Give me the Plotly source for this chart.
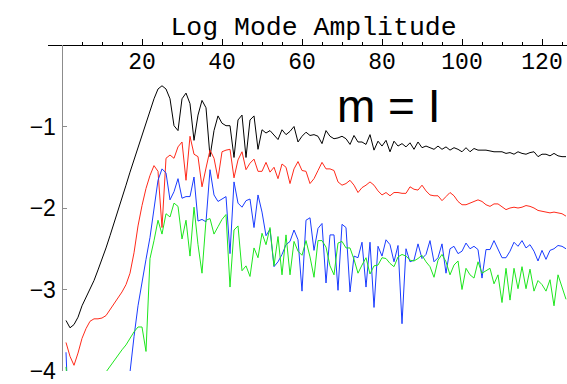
import plotly.graph_objects as go

# ---------------- data ----------------
x = list(range(1, 127))

black = [
    -3.38, -3.47, -3.43, -3.34, -3.20, -3.10, -3.00, -2.89, -2.76, -2.63,
    -2.49, -2.34, -2.19, -2.04, -1.88, -1.72, -1.56, -1.41, -1.26, -1.11,
    -0.96, -0.81, -0.66, -0.54, -0.50, -0.54, -0.66, -0.99, -1.05, -0.66,
    -0.59, -0.72, -1.17, -0.86, -0.68, -0.77, -1.37, -1.05, -0.87, -0.96,
    -0.99, -0.99, -1.38, -0.92, -0.86, -1.38, -0.92, -0.87, -1.28, -1.04,
    -1.08, -1.05, -1.10, -1.16, -1.04, -1.10, -1.06, -1.00, -1.19, -1.12,
    -1.07, -1.11, -1.10, -1.12, -1.21, -1.05, -1.12, -1.15, -1.14, -1.12,
    -1.15, -1.22, -1.11, -1.19, -1.19, -1.22, -1.10, -1.29, -1.18, -1.24,
    -1.17, -1.31, -1.18, -1.24, -1.21, -1.25, -1.20, -1.28, -1.19, -1.26,
    -1.24, -1.26, -1.28, -1.24, -1.28, -1.25, -1.29, -1.26, -1.28, -1.31,
    -1.26, -1.31, -1.27, -1.29, -1.29, -1.29, -1.30, -1.31, -1.31, -1.31,
    -1.33, -1.32, -1.34, -1.31, -1.33, -1.34, -1.32, -1.31, -1.37, -1.34,
    -1.34, -1.36, -1.33, -1.36, -1.37, -1.37,
]

red = [
    -3.65, -3.82, -3.93, -3.78, -3.60, -3.48, -3.39, -3.36, -3.36, -3.35,
    -3.32, -3.25, -3.18, -3.10, -3.03, -2.94, -2.80, -2.55, -2.22, -1.97,
    -1.76, -1.60, -1.48, -1.55, -2.24, -1.39, -1.35, -1.39, -1.25, -1.19,
    -1.66, -1.12, -1.34, -1.37, -1.74, -1.51, -1.29, -1.39, -1.64, -1.31,
    -1.29, -1.28, -1.63, -1.41, -1.31, -1.53, -1.45, -1.40, -1.55, -1.55,
    -1.44, -1.56, -1.50, -1.64, -1.46, -1.50, -1.70, -1.52, -1.43, -1.54,
    -1.55, -1.70, -1.64, -1.54, -1.44, -1.52, -1.52, -1.54, -1.68, -1.72,
    -1.70, -1.66, -1.72, -1.81, -1.75, -1.72, -1.68, -1.72, -1.79, -1.84,
    -1.81, -1.85, -1.81, -1.81, -1.82, -1.82, -1.74, -1.77, -1.78, -1.72,
    -1.79, -1.84, -1.85, -1.85, -1.91, -1.86, -1.81, -1.85, -1.92, -1.96,
    -1.96, -1.94, -1.92, -1.90, -1.92, -1.96, -1.98, -1.95, -1.95, -1.99,
    -2.02, -2.00, -1.99, -2.00, -1.99, -1.97, -1.98, -2.00, -2.03, -2.04,
    -2.05, -2.06, -2.05, -2.06, -2.07, -2.10,
]

blue = [
    -3.77, -5.00, None, None, None, None, None, None, None, None,
    None, None, None, None, None, -4.45, -3.97, -3.58, -3.20, -2.90,
    -2.63, -2.36, -2.04, -1.66, -1.52, -1.57, -1.90, -1.80, -1.64, -1.88,
    -1.86, -1.86, -1.62, -2.16, -2.14, -2.17, -1.53, -1.84, -1.92, -1.89,
    -1.86, -2.56, -1.68, -1.94, -1.99, -1.91, -1.89, -2.24, -1.84, -2.05,
    -2.34, -2.26, -2.72, -2.66, -2.57, -2.45, -2.41, -2.27, -2.39, -3.02,
    -2.15, -2.12, -2.52, -2.25, -2.19, -2.92, -2.33, -2.33, -3.01, -2.20,
    -2.24, -3.03, -2.59, -2.61, -2.42, -2.97, -2.42, -3.22, -2.47, -2.59,
    -2.39, -2.45, -2.66, -2.46, -3.42, -2.50, -2.66, -2.64, -2.44, -2.62,
    -2.57, -2.40, -2.66, -2.61, -2.44, -2.80, -2.50, -2.47, -2.56, -2.53,
    -2.43, -2.50, -2.47, -2.51, -2.86, -2.51, -2.51, -2.40, -2.51, -2.61,
    -2.61, -2.53, -2.42, -2.47, -2.40, -2.49, -2.45, -2.53, -2.65, -2.52,
    -2.63, -2.52, -2.50, -2.46, -2.47, -2.50,
]

green = [
    -3.95, -4.50, None, None, None, None, None, None, None, -4.08,
    -4.01, -3.94, -3.87, -3.80, -3.74, -3.68, -3.60, -3.52, -3.46, -3.46,
    -3.76, -2.62, -2.40, -2.15, -2.32, -2.07, -2.11, -1.94, -1.98, -2.38,
    -2.15, -2.59, -1.99, -2.45, -2.80, -2.15, -2.13, -2.32, -2.23, -2.14,
    -2.08, -2.97, -2.27, -2.22, -2.77, -2.71, -2.84, -2.49, -2.61, -2.31,
    -2.45, -2.24, -2.71, -2.35, -2.82, -2.33, -2.82, -2.41, -2.53, -2.58,
    -2.40, -2.60, -2.85, -2.40, -2.40, -2.48, -2.71, -2.82, -2.43, -2.41,
    -2.49, -2.49, -2.63, -2.80, -2.70, -2.61, -2.81, -2.71, -2.70, -2.61,
    -2.62, -2.68, -2.72, -2.60, -2.57, -2.59, -2.64, -2.65, -2.62, -2.58,
    -2.66, -2.72, -2.85, -2.64, -2.57, -2.66, -2.82, -2.70, -2.65, -3.00,
    -2.74, -2.82, -2.86, -2.66, -2.80, -2.77, -2.74, -2.93, -2.82, -3.16,
    -2.74, -3.13, -2.74, -2.99, -2.72, -2.99, -2.75, -3.02, -2.89, -2.94,
    -3.02, -2.88, -3.20, -2.82, -2.97, -3.12,
]

x_tick_vals = [20, 40, 60, 80, 100, 120]
x_tick_text = ["20", "40", "60", "80", "100", "120"]
x_minor_vals = [v for v in range(5, 126, 5) if v % 20 != 0]
y_tick_vals = [-1, -2, -3, -4]
y_tick_text = ["\u22121", "\u22122", "\u22123", "\u22124"]

title_text = "Log Mode Amplitude"
label_text = "m = I"

# ---------------- figure ----------------
W, H = 567, 384
ML, MR, MT, MB = 48, 0, 45, 9

fig = go.Figure()
for ys, col in [(black, "#000000"), (red, "#ff2a1a"), (blue, "#1a3cff"), (green, "#1ee61e")]:
    fig.add_trace(go.Scatter(x=x, y=ys, mode="lines",
                             line=dict(color=col, width=1),
                             connectgaps=False, showlegend=False,
                             hoverinfo="skip"))

mono = "Liberation Mono, Courier New, Courier, monospace"
sans = "Liberation Sans, Arial, Helvetica, sans-serif"

fig.update_layout(
    width=W, height=H,
    margin=dict(l=ML, r=MR, t=MT, b=MB, pad=0),
    paper_bgcolor="white", plot_bgcolor="white",
    title=dict(text=title_text, x=313.5 / W, xanchor="center",
               y=1 - 25.5 / H, yanchor="middle", yref="container",
               font=dict(family=mono, size=26.5, color="black")),
    xaxis=dict(range=[-3.5, 126.25], side="bottom", anchor="free", position=1,
               showline=True, linecolor="black", linewidth=1,
               ticks="inside", ticklen=6, tickcolor="black", tickwidth=1,
               tickmode="array", tickvals=x_tick_vals, ticktext=x_tick_text,
               tickfont=dict(family=mono, size=23, color="black"),
               ticklabelstandoff=-5, ticklabeloverflow="allow",
               minor=dict(tickmode="array", tickvals=x_minor_vals,
                          ticks="inside", ticklen=3.5, tickcolor="black", showgrid=False),
               showgrid=False, zeroline=False),
    yaxis=dict(range=[-4, 0], side="left", anchor="free", position=13.5 / (W - ML - MR),
               showline=True, linecolor="#8c8c8c", linewidth=1.5,
               ticks="inside", ticklen=4, tickcolor="#8c8c8c", tickwidth=1,
               tickmode="array", tickvals=y_tick_vals, ticktext=y_tick_text,
               tickfont=dict(family=sans, size=23, color="black"),
               ticklabelstandoff=1, ticklabeloverflow="allow",
               showgrid=False, zeroline=False),
    annotations=[dict(text=label_text, xref="paper", yref="paper",
                      x=(389 - ML) / (W - ML - MR), y=(H - MB - 107) / (H - MT - MB),
                      xanchor="center", yanchor="middle", showarrow=False,
                      font=dict(family=sans, size=46, color="black"))],
)

fig.write_html("out.html",
               config={"displayModeBar": False, "staticPlot": True},
               post_script="document.body.style.margin='0';document.body.style.overflow='hidden';")
